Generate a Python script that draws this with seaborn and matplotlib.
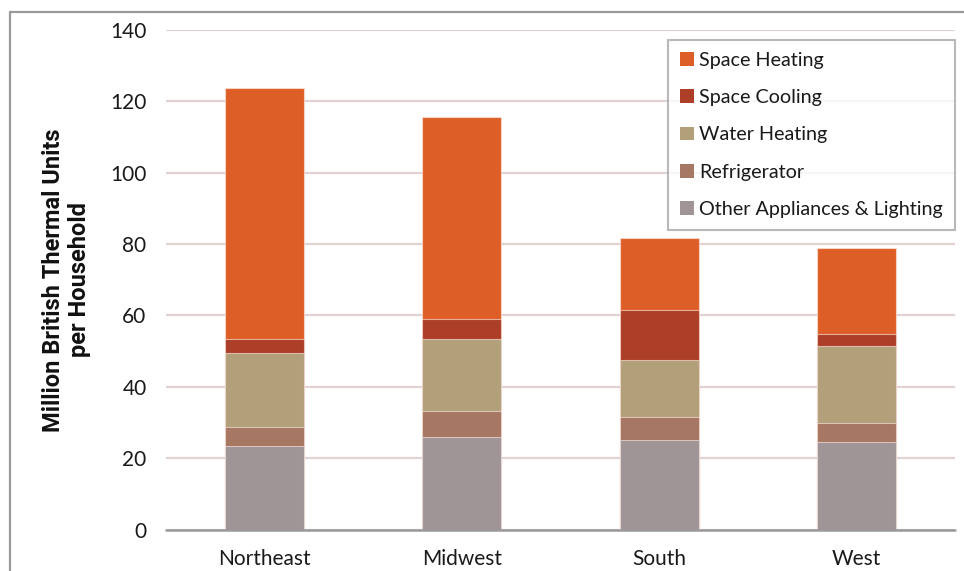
import matplotlib
matplotlib.use("Agg")
import matplotlib.pyplot as plt
from matplotlib import font_manager
from matplotlib.lines import Line2D
from matplotlib.patches import Patch
import numpy as np
import pandas as pd
import seaborn as sns

# Annual household energy use by end use, million BTU per household
regions = ["Northeast", "Midwest", "South", "West"]
other_appliances = [23.4, 26.0, 25.0, 24.5]
refrigerator = [5.4, 7.2, 6.6, 5.4]
water_heating = [20.8, 20.1, 15.8, 21.4]
space_cooling = [3.7, 5.6, 14.1, 3.6]
space_heating = [70.4, 56.7, 20.2, 24.0]

end_uses = ["Other Appliances & Lighting", "Refrigerator", "Water Heating",
            "Space Cooling", "Space Heating"]
colors = {
    "Space Heating": "#DD5F27",
    "Space Cooling": "#AD3F28",
    "Water Heating": "#B2A07B",
    "Refrigerator": "#A67762",
    "Other Appliances & Lighting": "#A09596",
}
y_ticks = [0, 20, 40, 60, 80, 100, 120, 140]

df = pd.DataFrame({
    "Region": regions,
    "Other Appliances & Lighting": other_appliances,
    "Refrigerator": refrigerator,
    "Water Heating": water_heating,
    "Space Cooling": space_cooling,
    "Space Heating": space_heating,
})
# running totals, bottom segment first
cum = df[end_uses].cumsum(axis=1)

sns.set_theme(style="white")
available = {f.name for f in font_manager.fontManager.ttflist}
body_font = ["Lato", "DejaVu Sans"]
if "Liberation Sans Narrow" in available:
    label_font, label_size = ["Liberation Sans Narrow", "DejaVu Sans"], 20.8
elif "DejaVu Sans Condensed" in available:
    label_font, label_size = ["DejaVu Sans Condensed", "DejaVu Sans"], 17
else:
    label_font, label_size = ["Roboto", "DejaVu Sans"], 17
plt.rcParams["font.family"] = body_font

fig = plt.figure(figsize=(9.64, 5.71), dpi=100)
ax = fig.add_axes([166 / 964, 1 - 529.5 / 571, 789 / 964, 499.5 / 571])

# draw the tallest running total first, then overlay the shorter ones
for use in reversed(end_uses):
    sns.barplot(x=df["Region"], y=cum[use], color=colors[use], width=0.4,
                saturation=1, errorbar=None, ax=ax, zorder=2,
                edgecolor=(1, 0.93, 0.9, 0.6), linewidth=0.8)

ax.set_xlim(-0.5, 3.5)
ax.set_ylim(0, 140)
ax.set_yticks(y_ticks)
ax.yaxis.grid(True, color="#E2D2D2", linewidth=1.6, zorder=0)
ax.xaxis.grid(False)
ax.set_axisbelow(True)
ax.axhline(0, color="#999999", linewidth=1.8, zorder=3, clip_on=False)
for s in ax.spines.values():
    s.set_visible(False)

ax.tick_params(axis="both", length=0, labelsize=15, labelcolor="#1A1A1A")
ax.tick_params(axis="y", pad=14)
ax.tick_params(axis="x", pad=14)
for lab in ax.get_xticklabels() + ax.get_yticklabels():
    lab.set_fontweight("normal")
ax.set_xlabel("")
ax.set_ylabel("Million British Thermal Units\nper Household",
              fontfamily=label_font, fontweight="bold", fontsize=label_size,
              linespacing=1.2, color="#111111")
ax.yaxis.label.set_verticalalignment("center")
ax.yaxis.set_label_coords(-0.126, 0.5)

handles = [Patch(facecolor=colors[u], edgecolor="none") for u in reversed(end_uses)]
leg = ax.legend(handles, list(reversed(end_uses)), loc="upper right",
                bbox_to_anchor=(1.0, 0.98), frameon=True, fancybox=False,
                fontsize=14.2, handlelength=0.68, handleheight=0.68,
                handletextpad=0.3, labelspacing=1.03, borderpad=0.6,
                borderaxespad=0)
leg.get_frame().set_edgecolor("#A8A8A8")
leg.get_frame().set_linewidth(1.5)
for t in leg.get_texts():
    t.set_fontweight("normal")
    t.set_color("#1A1A1A")

# outer frame of the figure panel
fig.add_artist(Line2D([10 / 964, 10 / 964], [0, 1 - 12 / 571],
                      transform=fig.transFigure, color="#9A9A9A", linewidth=1.6))
fig.add_artist(Line2D([10 / 964, 1], [1 - 12 / 571, 1 - 12 / 571],
                      transform=fig.transFigure, color="#9A9A9A", linewidth=1.6))

fig.savefig("out.png", dpi=100)
